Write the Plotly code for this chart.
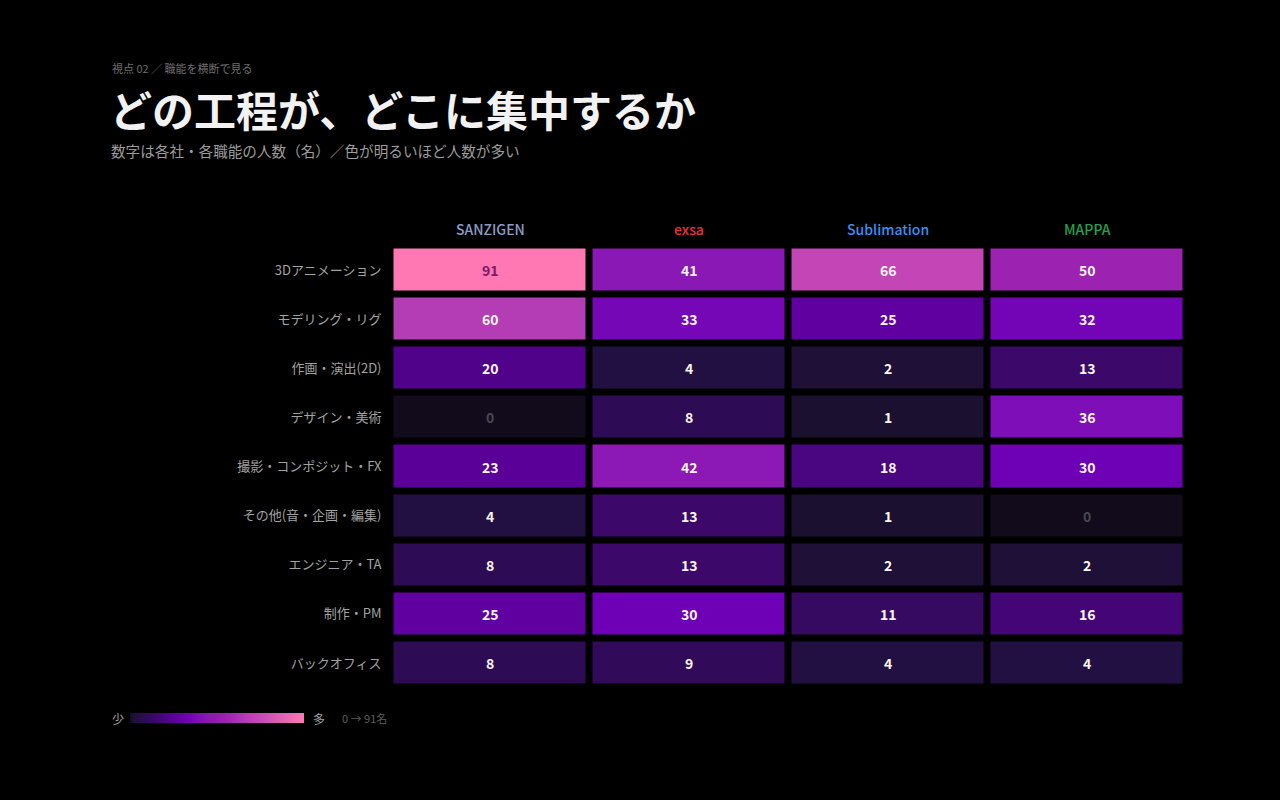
import plotly.graph_objects as go

companies = ["SANZIGEN", "exsa", "Sublimation", "MAPPA"]
company_colors = ["#8d9cc4", "#e8323c", "#3a8ff0", "#22a052"]
roles = ["3Dアニメーション", "モデリング・リグ", "作画・演出(2D)", "デザイン・美術",
         "撮影・コンポジット・FX", "その他(音・企画・編集)", "エンジニア・TA", "制作・PM", "バックオフィス"]

sanzigen = [91, 60, 20, 0, 23, 4, 8, 25, 8]
exsa = [41, 33, 4, 8, 42, 13, 13, 30, 9]
sublimation = [66, 25, 2, 1, 18, 1, 2, 11, 4]
mappa = [50, 32, 13, 36, 30, 0, 2, 16, 4]

series = [sanzigen, exsa, sublimation, mappa]
zmax = 91

colorscale = [
    [0.0, "#110b1b"],
    [0.011, "#1b1030"],
    [0.044, "#231042"],
    [0.088, "#2e0c55"],
    [0.143, "#3c0869"],
    [0.198, "#4a0580"],
    [0.253, "#5a0098"],
    [0.33, "#6e00b6"],
    [0.40, "#7f10b8"],
    [0.45, "#8a18b5"],
    [0.55, "#9c22b2"],
    [0.66, "#b43cb4"],
    [0.725, "#c445b5"],
    [1.0, "#ff78b4"],
]

z = [[series[c][r] for c in range(len(companies))] for r in range(len(roles))]

fig = go.Figure()
fig.add_trace(go.Heatmap(
    z=z, x=companies, y=roles,
    zmin=0, zmax=zmax,
    colorscale=colorscale,
    xgap=7, ygap=7,
    hovertemplate="%{y} / %{x}: %{z}名<extra></extra>",
    colorbar=dict(
        orientation="h", lenmode="pixels", len=174, thickness=10,
        x=217 / 1280, xanchor="center", y=1 - 718 / 800, yanchor="middle",
        xref="paper", yref="paper",
        outlinewidth=0, showticklabels=False, ticks="", xpad=0, ypad=0,
    ),
))

annotations = []
for r, role in enumerate(roles):
    for c, comp in enumerate(companies):
        v = series[c][r]
        if v == 0:
            col = "#4a4852"
        elif v >= 80:
            col = "#7a1a6e"
        else:
            col = "#fbf6ec"
        annotations.append(dict(
            x=comp, y=role, xref="x", yref="y", text=str(v), showarrow=False,
            font=dict(family="Noto Sans CJK JP", size=14, color=col, weight=600),
        ))

for comp, ccol in zip(companies, company_colors):
    annotations.append(dict(
        x=comp, y=1 - 229 / 800, xref="x", yref="paper", text=comp, showarrow=False,
        yanchor="middle",
        font=dict(family="Noto Sans CJK JP", size=14, color=ccol, weight=500),
    ))

annotations += [
    dict(x=110 / 1280, y=1 - 68 / 800, xref="paper", yref="paper", xanchor="left", yanchor="middle",
         text="視点 02 ／ 職能を横断で見る", showarrow=False,
         font=dict(family="Noto Sans CJK JP", size=11, color="#6e6e6e")),
    dict(x=108 / 1280, y=1 - 108 / 800, xref="paper", yref="paper", xanchor="left", yanchor="middle",
         text="どの工程が、どこに集中するか", showarrow=False,
         font=dict(family="Noto Sans CJK JP", size=42, color="#f2f2f2", weight="bold")),
    dict(x=109 / 1280, y=1 - 150 / 800, xref="paper", yref="paper", xanchor="left", yanchor="middle",
         text="数字は各社・各職能の人数（名）／色が明るいほど人数が多い", showarrow=False,
         font=dict(family="Noto Sans CJK JP", size=14.6, color="#9c9c9c")),
    dict(x=110 / 1280, y=1 - 718 / 800, xref="paper", yref="paper", xanchor="left", yanchor="middle",
         text="少", showarrow=False,
         font=dict(family="Noto Sans CJK JP", size=12, color="#a0a0a0")),
    dict(x=311 / 1280, y=1 - 718 / 800, xref="paper", yref="paper", xanchor="left", yanchor="middle",
         text="多", showarrow=False,
         font=dict(family="Noto Sans CJK JP", size=12, color="#a0a0a0")),
    dict(x=340 / 1280, y=1 - 718 / 800, xref="paper", yref="paper", xanchor="left", yanchor="middle",
         text="0 → 91名", showarrow=False,
         font=dict(family="Noto Sans CJK JP", size=11, color="#5e5e5e")),
]

fig.update_layout(
    width=1280, height=800,
    paper_bgcolor="#000000", plot_bgcolor="#000000",
    margin=dict(l=0, r=0, t=0, b=0, autoexpand=False),
    font=dict(family="Noto Sans CJK JP", color="#a0a0a0"),
    xaxis=dict(domain=[390.5 / 1280, 1186.5 / 1280], showticklabels=False, showgrid=False,
               zeroline=False, ticks=""),
    yaxis=dict(domain=[1 - 687.5 / 800, 1 - 245.5 / 800], autorange="reversed", showgrid=False,
               zeroline=False, ticks="", ticklabelstandoff=8,
               tickfont=dict(family="Noto Sans CJK JP", size=13, color="#a3a3a3")),
    annotations=annotations,
    showlegend=False,
)

fig.write_html(
    "out.html",
    config={"displayModeBar": False},
    post_script="document.body.style.margin='0';document.body.style.background='#000';"
                "document.documentElement.style.background='#000';",
)
